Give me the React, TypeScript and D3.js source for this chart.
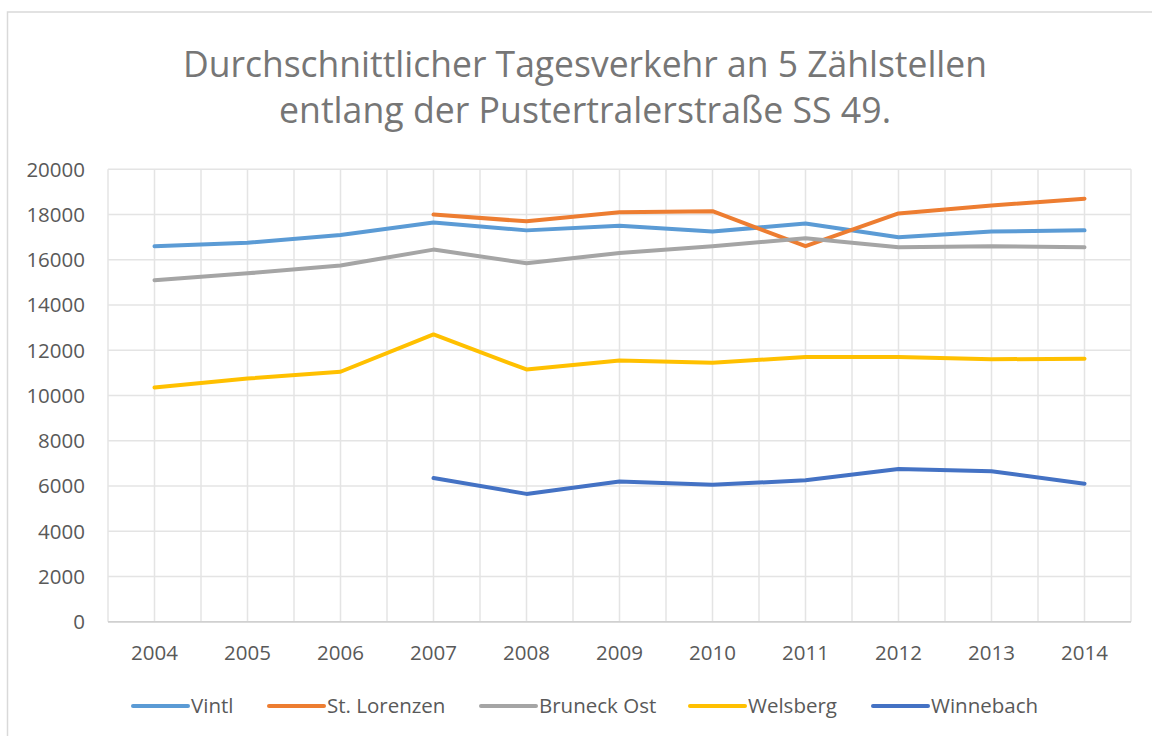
import React from "react";
import * as d3 from "d3";

const years = ["2004", "2005", "2006", "2007", "2008", "2009", "2010", "2011", "2012", "2013", "2014"];
const seriesNames = ["Vintl", "St. Lorenzen", "Bruneck Ost", "Welsberg", "Winnebach"];
const vintl = [16600, 16750, 17100, 17650, 17300, 17500, 17250, 17600, 17000, 17250, 17300];
const stLorenzen = [null, null, null, 18000, 17700, 18100, 18150, 16600, 18050, 18400, 18700];
const bruneckOst = [15100, 15400, 15750, 16450, 15850, 16300, 16600, 16950, 16550, 16600, 16550];
const welsberg = [10350, 10750, 11050, 12700, 11150, 11550, 11450, 11700, 11700, 11600, 11630];
const winnebach = [null, null, null, 6350, 5650, 6200, 6050, 6250, 6750, 6650, 6100];
const yTicks = [0, 2000, 4000, 6000, 8000, 10000, 12000, 14000, 16000, 18000, 20000];
const titleLines = ["Durchschnittlicher Tagesverkehr an 5 Zählstellen", "entlang der Pustertralerstraße SS 49."];

const colors = ["#5B9BD5", "#ED7D31", "#A5A5A5", "#FFC000", "#4472C4"];
const legendX = [133, 269, 481, 690, 873];

export default function App() {
  const W = 1152, H = 736;
  const left = 108, right = 1131, top = 169.3, bottom = 621.7;
  const x = d3.scalePoint<string>().domain(years).range([left, right]).padding(0.5);
  const y = d3.scaleLinear().domain([0, 20000]).range([bottom, top]);
  const step = x.step();
  const allSeries = [vintl, stLorenzen, bruneckOst, welsberg, winnebach];
  const line = d3
    .line<number | null>()
    .defined((d) => d !== null)
    .x((_, i) => x(years[i]) as number)
    .y((d) => y(d as number));

  const vLines: number[] = [];
  for (let i = 0; i <= years.length * 2; i++) vLines.push(left + (i * step) / 2);

  const font = "'Open Sans', sans-serif";
  return (
    <svg width={W} height={H} style={{ position: "absolute", left: 0, top: 0, background: "#fff" }}>
      <rect x={0} y={0} width={W} height={H} fill="#fff" />
      <rect x={7.5} y={12} width={W + 20} height={H + 20} fill="none" stroke="#d9d9d9" strokeWidth={1.5} />
      {titleLines.map((t, i) => (
        <text
          key={i}
          x={585}
          y={i === 0 ? 77 : 123}
          textAnchor="middle"
          fontFamily={font}
          fontSize={36}
          fill="#767676"
          textLength={i === 0 ? 804 : 612}
          lengthAdjust="spacingAndGlyphs"
        >
          {t}
        </text>
      ))}
      {yTicks.map((t) => (
        <line key={"h" + t} x1={left} x2={right} y1={y(t)} y2={y(t)} stroke={t === 0 ? "#d0d0d0" : "#e4e4e4"} strokeWidth={1.5} />
      ))}
      {vLines.map((vx, i) => (
        <line key={"v" + i} x1={vx} x2={vx} y1={top} y2={bottom} stroke="#e4e4e4" strokeWidth={1.5} />
      ))}
      <line x1={left} x2={right} y1={bottom} y2={bottom} stroke="#d0d0d0" strokeWidth={1.5} />
      {yTicks.map((t) => (
        <text key={"yl" + t} x={85} y={y(t)} dy="0.36em" textAnchor="end" fontFamily={font} fontSize={20.5} fill="#595959">
          {t}
        </text>
      ))}
      {years.map((yr) => (
        <text key={"xl" + yr} x={x(yr)} y={660} textAnchor="middle" fontFamily={font} fontSize={20.5} fill="#595959">
          {yr}
        </text>
      ))}
      {allSeries.map((s, i) => (
        <path
          key={"s" + i}
          d={line(s) || ""}
          fill="none"
          stroke={colors[i]}
          strokeWidth={4}
          strokeLinecap="round"
          strokeLinejoin="round"
        />
      ))}
      {seriesNames.map((n, i) => (
        <g key={"lg" + i}>
          <line x1={legendX[i]} x2={legendX[i] + 55} y1={706} y2={706} stroke={colors[i]} strokeWidth={4} strokeLinecap="round" />
          <text x={legendX[i] + 58} y={713} fontFamily={font} fontSize={20.5} fill="#595959">
            {n}
          </text>
        </g>
      ))}
    </svg>
  );
}
